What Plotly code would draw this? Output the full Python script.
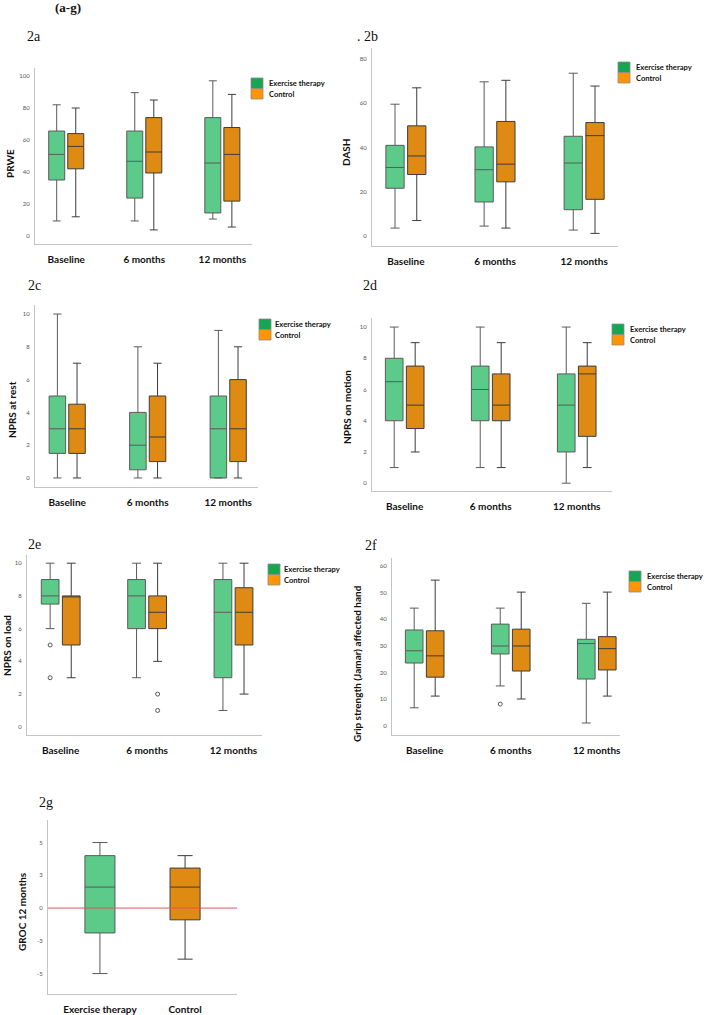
import plotly.graph_objects as go

W, H = 704, 1015

# ---------------- data ----------------
TIMES = ["Baseline", "6 months", "12 months"]
GROUPS = ["Exercise therapy", "Control"]

# 2a PRWE
PRWE_EX_LOW = [9.4, 9.4, 10.6]
PRWE_EX_Q1 = [35, 23.7, 14.4]
PRWE_EX_MED = [51, 46.7, 45.6]
PRWE_EX_Q3 = [65.6, 65.6, 74]
PRWE_EX_HIGH = [82, 89.6, 97]
PRWE_CT_LOW = [12, 3.8, 5.6]
PRWE_CT_Q1 = [42, 39.4, 21.8]
PRWE_CT_MED = [56, 52.5, 51]
PRWE_CT_Q3 = [64, 74, 67.8]
PRWE_CT_HIGH = [80, 85, 88.5]

# 2b DASH
DASH_EX_LOW = [3.6, 4.5, 2.7]
DASH_EX_Q1 = [21.6, 15.4, 11.9]
DASH_EX_MED = [31, 30, 33]
DASH_EX_Q3 = [41, 40.3, 45.1]
DASH_EX_HIGH = [59.6, 69.7, 73.6]
DASH_CT_LOW = [7, 3.6, 1.2]
DASH_CT_Q1 = [27.8, 24.5, 16.6]
DASH_CT_MED = [36.2, 32.5, 45.4]
DASH_CT_Q3 = [49.8, 51.8, 51.3]
DASH_CT_HIGH = [67, 70.4, 67.8]

# 2c NPRS at rest
REST_EX_LOW = [0, 0, 0]
REST_EX_Q1 = [1.5, 0.5, 0]
REST_EX_MED = [3, 2, 3]
REST_EX_Q3 = [5, 4, 5]
REST_EX_HIGH = [10, 8, 9]
REST_CT_LOW = [0, 0, 0]
REST_CT_Q1 = [1.5, 1, 1]
REST_CT_MED = [3, 2.5, 3]
REST_CT_Q3 = [4.5, 5, 6]
REST_CT_HIGH = [7, 7, 8]

# 2d NPRS on motion
MOT_EX_LOW = [1, 1, 0]
MOT_EX_Q1 = [4, 4, 2]
MOT_EX_MED = [6.5, 6, 5]
MOT_EX_Q3 = [8, 7.5, 7]
MOT_EX_HIGH = [10, 10, 10]
MOT_CT_LOW = [2, 1, 1]
MOT_CT_Q1 = [3.5, 4, 3]
MOT_CT_MED = [5, 5, 7]
MOT_CT_Q3 = [7.5, 7, 7.5]
MOT_CT_HIGH = [9, 9, 9]

# 2e NPRS on load
LOAD_EX_LOW = [6, 3, 1]
LOAD_EX_Q1 = [7.5, 6, 3]
LOAD_EX_MED = [8, 8, 7]
LOAD_EX_Q3 = [9, 9, 9]
LOAD_EX_HIGH = [10, 10, 10]
LOAD_EX_OUT = [[5, 3], [None], [None]]
LOAD_CT_LOW = [3, 4, 2]
LOAD_CT_Q1 = [5, 6, 5]
LOAD_CT_MED = [8, 7, 7]
LOAD_CT_Q3 = [8, 8, 8.5]
LOAD_CT_HIGH = [10, 10, 10]
LOAD_CT_OUT = [[None], [2, 1], [None]]

# 2f Grip strength
GRIP_EX_LOW = [6.8, 15, 1.1]
GRIP_EX_Q1 = [23.6, 27, 17.6]
GRIP_EX_MED = [28.2, 30, 30.9]
GRIP_EX_Q3 = [36, 38.2, 32.5]
GRIP_EX_HIGH = [44.2, 44.2, 46]
GRIP_EX_OUT = [[None], [8.2], [None]]
GRIP_CT_LOW = [11.2, 10.1, 11.2]
GRIP_CT_Q1 = [18.3, 20.6, 21]
GRIP_CT_MED = [26.3, 30, 29]
GRIP_CT_Q3 = [35.7, 36.3, 33.5]
GRIP_CT_HIGH = [54.7, 50.2, 50.2]

# 2g GROC 12 months
GROC_LOW = [-5, -3.9]
GROC_Q1 = [-1.9, -0.9]
GROC_MED = [1.6, 1.6]
GROC_Q3 = [4.0, 3.05]
GROC_HIGH = [5, 4.0]
GROC_TICKS = [-5, -2.5, 0, 2.5, 5]
GROC_TICKTEXT = ["-5", "-3", "0", "3", "5"]

# ---------------- style ----------------
GREEN_FILL = "#5ccb8a"
ORANGE_FILL = "#df8a12"
GREEN_SW = "#14a652"
ORANGE_SW = "#ff9505"
EX_LINE = "#5a5a5a"
CT_LINE = "#3c3c3c"
AXIS_COL = "#c4c4c4"
SANS = "Lato"
SERIF = "Liberation Serif"

fig = go.Figure()


def px_x(x):
    return x / W


def px_y(y):
    return 1 - y / H


panels = [
    # id, x-dom px, y-dom px, xrange, yrange, tickvals, ticktext
    ("", (35, 252), (68, 244), [-0.40, 2.38], [-5, 105], [0, 20, 40, 60, 80, 100], None),
    ("2", (372, 618), (48, 246), [-0.38, 2.38], [-4.5, 85], [0, 20, 40, 60, 80], None),
    ("3", (35, 258), (305, 487), [-0.40, 2.37], [-0.55, 10.55], [0, 2, 4, 6, 8, 10], None),
    ("4", (372, 612), (318, 491), [-0.38, 2.41], [-0.5, 10.58], [0, 2, 4, 6, 8, 10], None),
    ("5", (27, 262), (555, 735), [-0.39, 2.33], [-0.5, 10.5], [0, 2, 4, 6, 8, 10], None),
    ("6", (392, 620), (558, 735), [-0.38, 2.27], [-3.4, 63], [0, 10, 20, 30, 40, 50, 60], None),
    ("7", (48, 237), (820, 994), [-0.61, 1.61], [-6.56, 6.72], GROC_TICKS, GROC_TICKTEXT),
]

layout_axes = {}
for pid, (x0, x1), (y0, y1), xr, yr, tv, tt in panels:
    layout_axes["xaxis" + pid] = dict(
        domain=[px_x(x0), px_x(x1)], anchor="y" + pid, type="category",
        range=xr, showline=True, linecolor=AXIS_COL, linewidth=1,
        showgrid=False, zeroline=False, ticks="", ticklabelstandoff=6,
        tickfont=dict(family=SANS, size=10, color="#111", weight="bold"),
        fixedrange=True,
    )
    ya = dict(
        domain=[px_y(y1), px_y(y0)], anchor="x" + pid, range=yr,
        showline=True, linecolor=AXIS_COL, linewidth=1,
        showgrid=False, zeroline=False, ticks="", ticklabelstandoff=3,
        tickvals=tv, tickfont=dict(family=SANS, size=6, color="#555"),
        fixedrange=True,
    )
    if tt is not None:
        ya["ticktext"] = tt
    layout_axes["yaxis" + pid] = ya


def add_pair(pid, ex, ct, ex_out=None, ct_out=None):
    for stats, out, fill, lc, og in ((ex, ex_out, GREEN_FILL, EX_LINE, "ex"),
                                      (ct, ct_out, ORANGE_FILL, CT_LINE, "ct")):
        low, q1, med, q3, high = stats
        if out is not None:
            kw = dict(y=out, boxpoints="outliers", jitter=0, pointpos=0)
        else:
            kw = dict(boxpoints=False)
        fig.add_trace(go.Box(
            x=TIMES, q1=q1, median=med, q3=q3, lowerfence=low, upperfence=high,
            orientation="v", offsetgroup=og, fillcolor=fill,
            line=dict(color=lc, width=1), whiskerwidth=0.5,
            marker=dict(symbol="circle-open", size=4, color="#555",
                        line=dict(color="#555", width=1)),
            xaxis="x" + pid, yaxis="y" + pid, showlegend=False, hoverinfo="skip",
            **kw,
        ))


add_pair("", (PRWE_EX_LOW, PRWE_EX_Q1, PRWE_EX_MED, PRWE_EX_Q3, PRWE_EX_HIGH),
         (PRWE_CT_LOW, PRWE_CT_Q1, PRWE_CT_MED, PRWE_CT_Q3, PRWE_CT_HIGH))
add_pair("2", (DASH_EX_LOW, DASH_EX_Q1, DASH_EX_MED, DASH_EX_Q3, DASH_EX_HIGH),
         (DASH_CT_LOW, DASH_CT_Q1, DASH_CT_MED, DASH_CT_Q3, DASH_CT_HIGH))
add_pair("3", (REST_EX_LOW, REST_EX_Q1, REST_EX_MED, REST_EX_Q3, REST_EX_HIGH),
         (REST_CT_LOW, REST_CT_Q1, REST_CT_MED, REST_CT_Q3, REST_CT_HIGH))
add_pair("4", (MOT_EX_LOW, MOT_EX_Q1, MOT_EX_MED, MOT_EX_Q3, MOT_EX_HIGH),
         (MOT_CT_LOW, MOT_CT_Q1, MOT_CT_MED, MOT_CT_Q3, MOT_CT_HIGH))
add_pair("5", (LOAD_EX_LOW, LOAD_EX_Q1, LOAD_EX_MED, LOAD_EX_Q3, LOAD_EX_HIGH),
         (LOAD_CT_LOW, LOAD_CT_Q1, LOAD_CT_MED, LOAD_CT_Q3, LOAD_CT_HIGH),
         LOAD_EX_OUT, LOAD_CT_OUT)
add_pair("6", (GRIP_EX_LOW, GRIP_EX_Q1, GRIP_EX_MED, GRIP_EX_Q3, GRIP_EX_HIGH),
         (GRIP_CT_LOW, GRIP_CT_Q1, GRIP_CT_MED, GRIP_CT_Q3, GRIP_CT_HIGH),
         GRIP_EX_OUT, None)

# 2g: one box per category
for i, (fill, lc) in enumerate(((GREEN_FILL, EX_LINE), (ORANGE_FILL, CT_LINE))):
    fig.add_trace(go.Box(
        x=[GROUPS[i]], q1=[GROC_Q1[i]], median=[GROC_MED[i]], q3=[GROC_Q3[i]],
        lowerfence=[GROC_LOW[i]], upperfence=[GROC_HIGH[i]],
        orientation="v", width=0.353, boxpoints=False, fillcolor=fill,
        line=dict(color=lc, width=1), whiskerwidth=0.5,
        xaxis="x7", yaxis="y7", showlegend=False, hoverinfo="skip",
    ))

shapes = []
annotations = []

# zero reference line in 2g
shapes.append(dict(type="line", xref="x7 domain", x0=0, x1=1, yref="y7", y0=0, y1=0,
                   line=dict(color="#e8505b", width=1), layer="above"))

# legends (swatches + labels)
legend_pos = [(251, 78, 267), (618, 62, 634), (259, 319, 273), (612, 324, 628),
              (268, 564, 282), (629, 571, 645)]
SW_W, SW_H = 12, 10.5
for (lx, ly, tx) in legend_pos:
    for k, (col, name) in enumerate(((GREEN_SW, GROUPS[0]), (ORANGE_SW, GROUPS[1]))):
        top = ly + k * SW_H
        shapes.append(dict(type="rect", xref="paper", yref="paper",
                           x0=px_x(lx), x1=px_x(lx + SW_W), y0=px_y(top + SW_H), y1=px_y(top),
                           fillcolor=col, line=dict(color="#8a8a8a", width=0.8)))
        annotations.append(dict(xref="paper", yref="paper", x=px_x(tx), y=px_y(top + SW_H / 2),
                                text=name, showarrow=False, xanchor="left", yanchor="middle",
                                font=dict(family=SANS, size=7.6, color="#111", weight="bold")))

# y-axis titles
ytitles = [("PRWE", 10, 164), ("DASH", 346, 152), ("NPRS at rest", 12, 410),
           ("NPRS on motion", 347, 407), ("NPRS on load", 7, 646),
           ("Grip strength (Jamar) affected hand", 357, 664), ("GROC 12 months", 22, 912)]
for t, x, y in ytitles:
    annotations.append(dict(xref="paper", yref="paper", x=px_x(x), y=px_y(y), text=t,
                            textangle=-90, showarrow=False, xanchor="center", yanchor="middle",
                            font=dict(family=SANS, size=10, color="#111", weight="bold")))

# panel labels
labels = [("(a-g)", 68, 8, True, 13), ("2a", 34, 37, False, 14), (". 2b", 367, 37, False, 14),
          ("2c", 34, 285, False, 14), ("2d", 370, 285, False, 14), ("2e", 34, 544, False, 14),
          ("2f", 371, 545, False, 14), ("2g", 46, 802, False, 14)]
for t, x, y, bold, sz in labels:
    annotations.append(dict(xref="paper", yref="paper", x=px_x(x), y=px_y(y), text=t,
                            showarrow=False, xanchor="center", yanchor="middle",
                            font=dict(family=SERIF, size=sz, color="#111",
                                      weight="bold" if bold else "normal")))

fig.update_layout(
    width=W, height=H, margin=dict(l=0, r=0, t=0, b=0),
    paper_bgcolor="white", plot_bgcolor="white",
    boxmode="group", boxgap=0.512, boxgroupgap=0.16,
    showlegend=False, shapes=shapes, annotations=annotations,
    **layout_axes,
)

fig.write_html("out.html")
